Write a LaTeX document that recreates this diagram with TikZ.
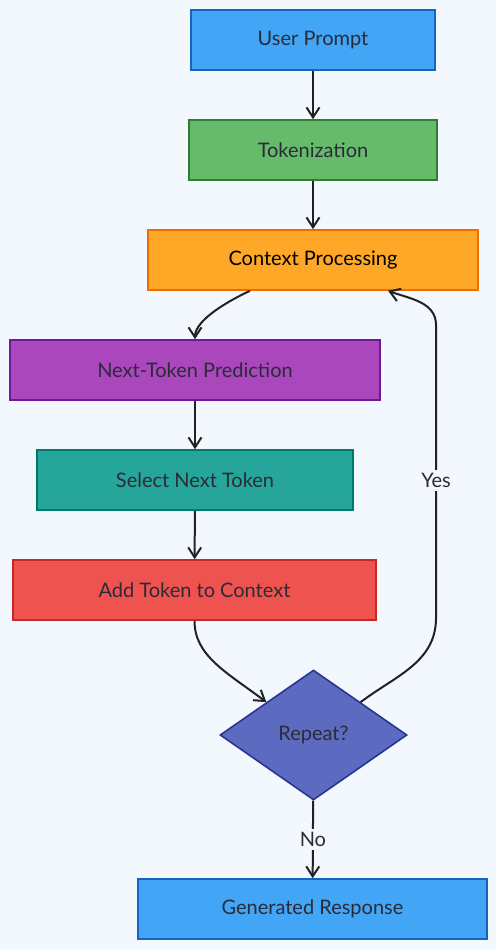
\documentclass[tikz,border=0pt]{standalone}
\usepackage{fontspec}
\setmainfont{Lato}
\usetikzlibrary{shapes.geometric,arrows.meta,calc}
\definecolor{bg}{HTML}{F3F8FE}
\definecolor{txt}{HTML}{2B2B38}
\definecolor{wire}{HTML}{222222}
\definecolor{bluefill}{HTML}{42A5F5}
\definecolor{blueline}{HTML}{1565C0}
\definecolor{greenfill}{HTML}{66BB6A}
\definecolor{greenline}{HTML}{2E7D32}
\definecolor{orangefill}{HTML}{FFA726}
\definecolor{orangeline}{HTML}{EF6C00}
\definecolor{purplefill}{HTML}{AB47BC}
\definecolor{purpleline}{HTML}{6A1B9A}
\definecolor{tealfill}{HTML}{26A69A}
\definecolor{tealline}{HTML}{00796B}
\definecolor{redfill}{HTML}{EF5350}
\definecolor{redline}{HTML}{C62828}
\definecolor{indigofill}{HTML}{5C6BC0}
\definecolor{indigoline}{HTML}{283593}
\begin{document}
\begin{tikzpicture}
		[x=1pt, y=1pt, font=\fontsize{20}{24}\selectfont, text=txt,
		box/.style={rectangle,draw,line width=1.6pt,minimum height=60pt,inner sep=2pt},
		decide/.style={diamond,draw,line width=1.6pt,aspect=1.44,minimum width=187pt,minimum height=130pt,inner sep=0pt},
		flow/.style={draw=wire,line width=2pt,-{Straight Barb[length=10pt,width=13pt]}},
		lbl/.style={fill=bg,inner sep=3pt}]
		\fill [bg] (0,0) rectangle (496,-949);
		\useasboundingbox (0,0) rectangle (496,-949);
		\node (prompt) [box, fill=bluefill, draw=blueline, minimum width=244pt] at (313,-40) {User Prompt};
		\node (tok) [box, fill=greenfill, draw=greenline, minimum width=248pt] at (313,-150) {Tokenization};
		\node (ctx) [box, fill=orangefill, draw=orangeline, minimum width=330pt, text=black] at (313,-260) {Context Processing};
		\node (pred) [box, fill=purplefill, draw=purpleline, minimum width=370pt] at (195,-370) {Next-Token Prediction};
		\node (sel) [box, fill=tealfill, draw=tealline, minimum width=316pt] at (195,-480) {Select Next Token};
		\node (add) [box, fill=redfill, draw=redline, minimum width=363pt] at (194.5,-590) {Add Token to Context};
		\node (rep) [decide, fill=indigofill, draw=indigoline] at (313.5,-735) {Repeat?};
		\node (gen) [box, fill=bluefill, draw=blueline, minimum width=349pt] at (312.5,-909) {Generated Response};
		\coordinate (yesbot) at (436,-618);
		\coordinate (yestop) at (436,-325);
		\draw [flow] (prompt) -- (tok);
		\draw [flow] (tok) -- (ctx);
		\draw [flow] ($(ctx.south)+(-63,0)$) to [out=-155,in=90,looseness=0.7] (pred.north);
		\draw [flow] (pred) -- (sel);
		\draw [flow] (sel) -- (add);
		\draw [flow] (add.south) .. controls +(0,-35) and +(-40,30) .. (rep.north west);
		\draw [flow] (rep.north east) to [out=37,in=-90] (yesbot) -- node [lbl, pos=0.47] {Yes} (yestop) to [out=90,in=-20] ($(ctx.south)+(75,0)$);
		\draw [flow] (rep) -- node [lbl] {No} (gen);
	\end{tikzpicture}
\end{document}
